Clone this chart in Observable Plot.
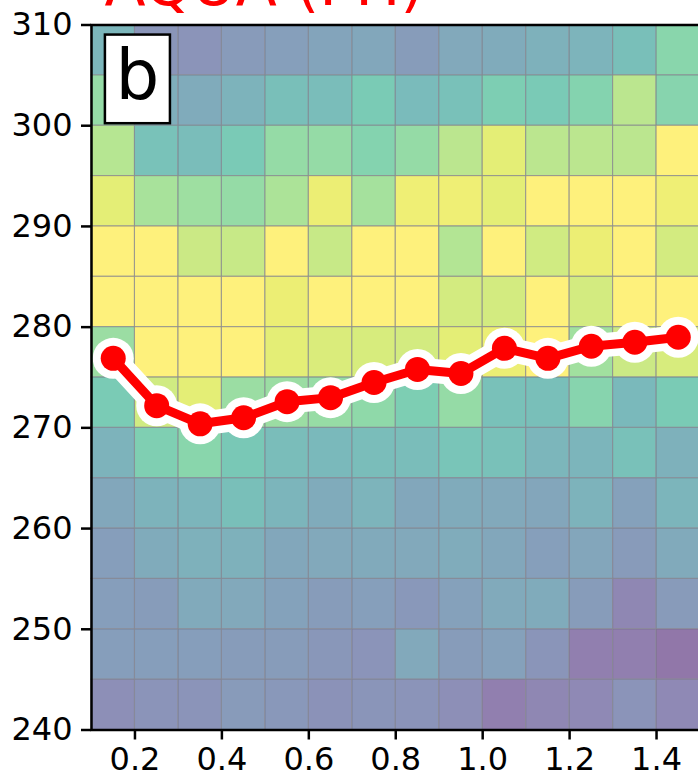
<!DOCTYPE html>
<html><head><meta charset="utf-8">
<script src="https://cdn.jsdelivr.net/npm/d3@7"></script>
<script src="https://cdn.jsdelivr.net/npm/@observablehq/plot@0.6"></script>
<style>html,body{margin:0;padding:0;background:#fff;overflow:hidden}svg{display:block}</style>
</head><body><div id="chart"></div>
<script>
const xEdges = [0.1,0.2,0.3,0.4,0.5,0.6,0.7,0.8,0.9,1.0,1.1,1.2,1.3,1.4,1.5];
const yEdges = [310,305,300,295,290,285,280,275,270,265,260,255,250,245,240];
const row305 = [.46,.24,.23,.27,.30,.33,.35,.28,.36,.38,.42,.44,.52,.68];
const row300 = [.72,.40,.38,.43,.52,.50,.60,.49,.53,.62,.59,.66,.83,.67];
const row295 = [.82,.54,.50,.59,.72,.72,.66,.72,.83,.93,.83,.83,.83,1.0];
const row290 = [.93,.78,.75,.72,.79,.95,.77,.96,.96,.93,1.0,1.0,1.0,.96];
const row285 = [1.0,1.0,.87,.86,1.0,.86,1.0,1.0,.81,1.0,.88,.95,1.0,.89];
const row280 = [1.0,1.0,1.0,1.0,.95,1.0,1.0,1.0,.89,.89,1.0,.89,1.0,1.0];
const row275 = [.74,1.0,1.0,1.0,.93,.91,.90,.89,.93,.95,1.0,.76,.87,.90];
const row270 = [.60,.88,.93,.74,.74,.73,.70,.62,.72,.53,.52,.67,.48,.60];
const row265 = [.43,.63,.68,.58,.50,.48,.50,.50,.56,.53,.46,.45,.53,.42];
const row260 = [.35,.43,.45,.52,.45,.38,.44,.35,.38,.36,.34,.43,.31,.45];
const row255 = [.29,.38,.42,.42,.35,.36,.37,.36,.39,.35,.30,.34,.27,.37];
const row250 = [.29,.28,.37,.36,.32,.28,.30,.26,.31,.37,.38,.28,.16,.27];
const row245 = [.29,.29,.29,.28,.28,.25,.23,.36,.28,.31,.24,.12,.12,.08];
const row240 = [.20,.23,.23,.27,.26,.22,.24,.23,.20,.12,.16,.17,.23,.17];
const rows = [row305,row300,row295,row290,row285,row280,row275,row270,row265,row260,row255,row250,row245,row240];

const lineX = [0.15,0.25,0.35,0.45,0.55,0.65,0.75,0.85,0.95,1.05,1.15,1.25,1.35,1.45];
const lineY = [276.9,272.2,270.4,271.0,272.6,273.0,274.5,275.8,275.4,277.9,276.9,278.1,278.5,279.0];

const xTicks = [0.2,0.4,0.6,0.8,1.0,1.2,1.4];
const yTicks = [240,250,260,270,280,290,300,310];
const titleText = ["AQUA (PH)"];
const panelLabel = ["b"];
const panelBox = [{x1:0.132,x2:0.2816,y1:300.2,y2:309}];

const cells = rows.flatMap((row,j)=>row.map((v,i)=>({x1:xEdges[i],x2:xEdges[i+1],y1:yEdges[j+1],y2:yEdges[j],v})));
const line = lineX.map((x,i)=>({x,y:lineY[i]}));
const FONT = "'DejaVu Sans'";

const chart = Plot.plot({
  width:698, height:777,
  marginLeft:91, marginRight:-1.5, marginTop:24.5, marginBottom:47.5,
  style:{fontFamily:FONT, background:"#fff", overflow:"hidden"},
  x:{domain:[0.1,1.5]},
  y:{domain:[240,310]},
  color:{type:"linear", scheme:"viridis", domain:[0,1]},
  marks:[
    Plot.rect(cells,{x1:"x1",x2:"x2",y1:"y1",y2:"y2",fill:"v",fillOpacity:0.6,stroke:"#8c8c96",strokeWidth:1.1,strokeOpacity:0.7}),
    Plot.line(line,{x:"x",y:"y",stroke:"#fff",strokeWidth:24,curve:"linear"}),
    Plot.dot(line,{x:"x",y:"y",fill:"#fff",r:20.5}),
    Plot.line(line,{x:"x",y:"y",stroke:"#f00",strokeWidth:9,curve:"linear"}),
    Plot.dot(line,{x:"x",y:"y",fill:"#f00",r:12.5}),
    Plot.frame({stroke:"#000",strokeWidth:2.5}),
    Plot.rect(panelBox,{x1:"x1",x2:"x2",y1:"y1",y2:"y2",fill:"#fff",stroke:"#000",strokeWidth:2.5}),
    Plot.text(panelLabel,{text:d=>d,frameAnchor:"top-left",dx:46,dy:52,fontSize:69,fill:"#000",textAnchor:"middle",lineAnchor:"middle"}),
    Plot.axisX(xTicks,{anchor:"bottom",tickSize:10,tickPadding:7,strokeWidth:2.5,fontSize:32,fill:"#000",stroke:"#000",tickFormat:d=>d.toFixed(1),label:null}),
    Plot.axisY(yTicks,{anchor:"left",tickSize:10,tickPadding:9,strokeWidth:2.5,fontSize:32,fill:"#000",stroke:"#000",tickFormat:d=>String(d),label:null}),
    Plot.text(titleText,{text:d=>d,frameAnchor:"top-left",dx:13,dy:-20,fontSize:60,fill:"#f00",textAnchor:"start",lineAnchor:"bottom"})
  ]
});
document.getElementById("chart").appendChild(chart);
</script></body></html>
